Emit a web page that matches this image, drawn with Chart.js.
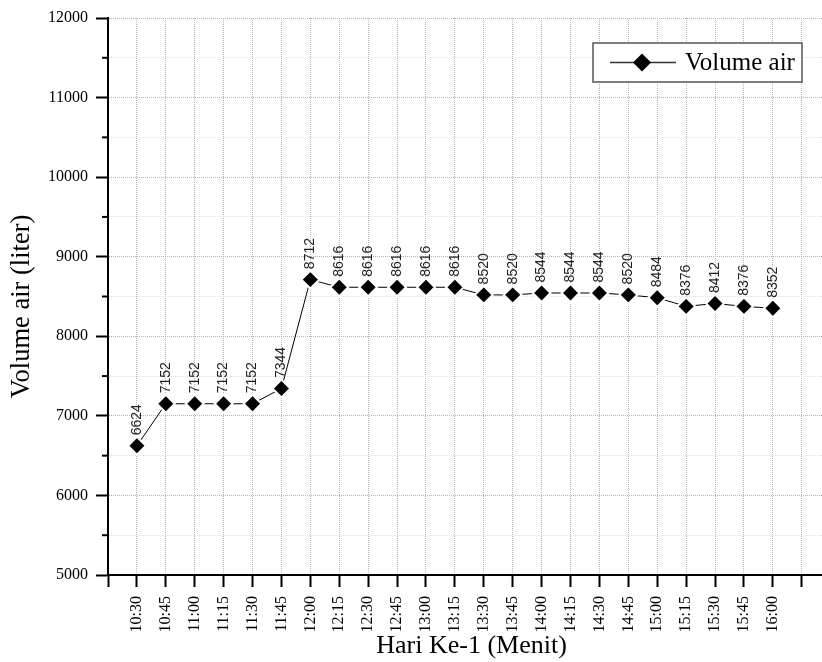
<!DOCTYPE html>
<html>
<head>
<meta charset="utf-8">
<script src="https://cdn.jsdelivr.net/npm/chart.js@4.4.0/dist/chart.umd.min.js"></script>
<style>
  body { margin: 0; background: #fff; }
  #wrap { width: 822px; height: 662px; }
</style>
</head>
<body>
<div id="wrap"><canvas id="myChart" width="822" height="662"></canvas></div>
<script>
// data
const timeLabels = [
  "10:30", "10:45", "11:00", "11:15", "11:30", "11:45", "12:00", "12:15",
  "12:30", "12:45", "13:00", "13:15", "13:30", "13:45", "14:00", "14:15",
  "14:30", "14:45", "15:00", "15:15", "15:30", "15:45", "16:00",
];
const volumeAir = [
  6624, 7152, 7152, 7152, 7152, 7344, 8712, 8616,
  8616, 8616, 8616, 8616, 8520, 8520, 8544, 8544,
  8544, 8520, 8484, 8376, 8412, 8376, 8352,
];
const yMin = 5000;
const yMax = 12000;
const seriesName = "Volume air";
const xTitle = "Hari Ke-1 (Menit)";
const yTitle = "Volume air (liter)";

const serif = "'Liberation Serif', 'Times New Roman', serif";
const sans = "'Liberation Sans', Arial, sans-serif";

Chart.defaults.font.family = serif;
Chart.defaults.color = "#000";

// x positions: slot 0 is empty, times start at slot 1
const points = volumeAir.map((v, i) => ({ x: i + 1, y: v }));

// rotated value labels above each diamond
const valueLabels = {
  id: "valueLabels",
  afterDatasetsDraw(chart) {
    const { ctx } = chart;
    const meta = chart.getDatasetMeta(0);
    ctx.save();
    ctx.font = "14px " + sans;
    ctx.fillStyle = "#222";
    ctx.textAlign = "left";
    ctx.textBaseline = "middle";
    meta.data.forEach((pt, i) => {
      ctx.save();
      ctx.translate(pt.x, pt.y - 10.5);
      ctx.rotate(-Math.PI / 2);
      ctx.fillText(String(volumeAir[i]), 0, 0);
      ctx.restore();
    });
    ctx.restore();
  },
};

// short minor ticks on the y axis
const minorTicks = {
  id: "minorTicks",
  afterDraw(chart) {
    const { ctx } = chart;
    const y = chart.scales.y;
    const left = chart.chartArea.left;
    ctx.save();
    ctx.strokeStyle = "#000";
    ctx.lineWidth = 2;
    for (let v = yMin + 500; v < yMax; v += 1000) {
      const py = y.getPixelForValue(v);
      ctx.beginPath();
      ctx.moveTo(left - 6, py);
      ctx.lineTo(left, py);
      ctx.stroke();
    }
    ctx.restore();
  },
};

// boxed legend inside the plot, top right
const boxLegend = {
  id: "boxLegend",
  afterDraw(chart) {
    const { ctx } = chart;
    const bx = 593, by = 43, bw = 209, bh = 39;
    const cy = by + bh / 2;
    ctx.save();
    ctx.fillStyle = "#fff";
    ctx.fillRect(bx, by, bw, bh);
    ctx.strokeStyle = "#555";
    ctx.lineWidth = 1.5;
    ctx.strokeRect(bx, by, bw, bh);
    ctx.strokeStyle = "#333";
    ctx.lineWidth = 1.5;
    ctx.beginPath();
    ctx.moveTo(610, cy);
    ctx.lineTo(676, cy);
    ctx.stroke();
    const r = 9;
    ctx.fillStyle = "#000";
    ctx.beginPath();
    ctx.moveTo(642 - r, cy);
    ctx.lineTo(642, cy - r);
    ctx.lineTo(642 + r, cy);
    ctx.lineTo(642, cy + r);
    ctx.closePath();
    ctx.fill();
    ctx.font = "25px " + serif;
    ctx.textAlign = "left";
    ctx.textBaseline = "middle";
    ctx.fillText(chart.data.datasets[0].label, 685, cy + 1);
    ctx.restore();
  },
};

const ctx = document.getElementById("myChart");
new Chart(ctx, {
  type: "line",
  data: {
    datasets: [
      {
        label: seriesName,
        data: points,
        borderColor: "#000",
        borderWidth: 1,
        tension: 0,
        pointStyle: "rectRot",
        pointRadius: 8.9,
        pointBackgroundColor: "#000",
        pointBorderColor: "#fff",
        pointBorderWidth: 2,
      },
    ],
  },
  options: {
    responsive: false,
    animation: false,
    layout: { autoPadding: false, padding: { top: 18, right: 0, left: 0, bottom: 0 } },
    plugins: {
      legend: { display: false },
      tooltip: { enabled: false },
    },
    scales: {
      x: {
        type: "linear",
        min: 0,
        max: 24.7,
        afterBuildTicks(scale) {
          const t = [];
          for (let i = 0; i <= timeLabels.length + 1; i++) t.push({ value: i });
          scale.ticks = t;
        },
        afterFit(scale) {
          scale.height = 87;
          scale.paddingRight = 0;
          scale.paddingLeft = 0;
        },
        ticks: {
          autoSkip: false,
          minRotation: 90,
          maxRotation: 90,
          padding: 9,
          font: { size: 16 },
          callback: (v) => (v >= 1 && v <= timeLabels.length ? timeLabels[v - 1] : ""),
        },
        grid: {
          color: "#b4b4b4",
          lineWidth: 1,
          tickLength: 12,
          tickWidth: 2,
          tickColor: "#000",
        },
        border: { display: true, color: "#000", width: 2, dash: [1, 1] },
        title: {
          display: true,
          text: "  " + xTitle,
          font: { size: 26 },
          padding: { top: 0, bottom: 0 },
        },
      },
      y: {
        min: yMin,
        max: yMax,
        afterFit(scale) {
          scale.width = 108;
        },
        ticks: {
          stepSize: 500,
          padding: 8,
          font: { size: 16 },
          callback: (v) => (v % 1000 === 0 ? String(v) : ""),
        },
        grid: {
          color: (c) => (c.tick && c.tick.value % 1000 === 0 ? "#b4b4b4" : "#e0e0e0"),
          lineWidth: 1,
          tickLength: 12,
          tickWidth: 2,
          tickColor: (c) => (c.tick && c.tick.value % 1000 === 0 ? "#000" : "rgba(0,0,0,0)"),
        },
        border: { display: true, color: "#000", width: 2, dash: [1, 1] },
        title: {
          display: true,
          // trailing spaces nudge the text down a little, as in the original
          text: yTitle + "   ",
          font: { size: 26.5 },
          padding: { top: 6, bottom: 0 },
        },
      },
    },
  },
  plugins: [valueLabels, minorTicks, boxLegend],
});
</script>
</body>
</html>
